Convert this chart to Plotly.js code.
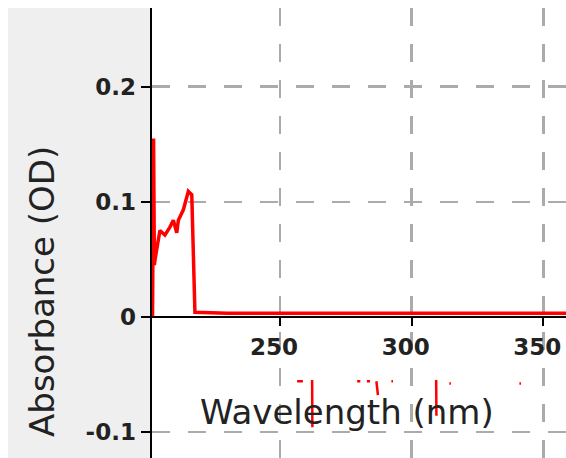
<!DOCTYPE html>
<html>
<head>
<meta charset="utf-8">
<script src="https://cdn.plot.ly/plotly-3.0.1.min.js"></script>
<style>
  html, body { margin: 0; padding: 0; background: #ffffff; width: 566px; height: 458px; overflow: hidden; }
  #chart { position: absolute; left: 8px; top: 8px; width: 558px; height: 450px; }
</style>
</head>
<body>
<div id="chart"></div>
<script>
// Absorbance spectrum (nm, OD)
const wavelength = [201.6, 201.9, 202.0, 202.3, 202.5, 204.4, 206.3, 208.2, 209.5, 210.8, 211.4, 213.3, 215.2, 216.5, 217.7, 230, 260, 300, 340, 360];
const absorbance = [0.000, 0.080, 0.155, 0.045, 0.049, 0.075, 0.071, 0.078, 0.084, 0.073, 0.084, 0.093, 0.109, 0.106, 0.004, 0.003, 0.003, 0.003, 0.003, 0.003];

// Stray red fragments below the axis (null separates fragments)
const fragWavelength = [256.5, 258.7, null, 262.2, 262.3, null, 279.3, 280.5, null, 283.0, 284.2, null, 286.6, 287.2, null, 292.3, 292.9, null, 309.3, 309.4, null, 314.3, 314.9, null, 340.9, 341.5];
const fragAbsorbance = [-0.056, -0.056, null, -0.055, -0.096, null, -0.056, -0.056, null, -0.056, -0.056, null, -0.056, -0.068, null, -0.056, -0.056, null, -0.055, -0.086, null, -0.058, -0.058, null, -0.058, -0.058];

const xTicks = [250, 300, 350];
const xTickLabels = ['250', '300', '350'];
const yTicks = [-0.1, 0, 0.1, 0.2];
const yTickLabels = ['-0.1', '0', '0.1', '0.2'];

const xRange = [201.4, 358.6];
const yRange = [-0.1227, 0.2684];

const xAxisPos = (0 - yRange[0]) / (yRange[1] - yRange[0]);

const gridColor = '#ababab';
const tickFont = { family: 'DejaVu Sans', size: 23, color: '#222222', weight: 'bold' };

const traces = [
  {
    x: wavelength, y: absorbance, type: 'scatter', mode: 'lines',
    line: { color: '#ff0000', width: 3.5 }, hoverinfo: 'skip', cliponaxis: true
  },
  {
    x: fragWavelength, y: fragAbsorbance, type: 'scatter', mode: 'lines',
    connectgaps: false,
    line: { color: '#ff0000', width: 2.5 }, hoverinfo: 'skip'
  }
];

const layout = {
  width: 558, height: 450,
  margin: { l: 144, r: 0, t: 0, b: 0, pad: 0 },
  paper_bgcolor: '#efefef',
  plot_bgcolor: '#ffffff',
  showlegend: false,
  xaxis: {
    range: xRange, tickvals: xTicks, ticktext: xTickLabels,
    anchor: 'free', position: xAxisPos,
    showline: true, linecolor: '#000000', linewidth: 2,
    ticks: 'outside', ticklen: 8, tickwidth: 2, tickcolor: '#000000',
    ticklabelshift: -6, ticklabelstandoff: 2,
    showgrid: true, gridcolor: gridColor, gridwidth: 2.5, griddash: '18px,18px',
    zeroline: false, tickfont: tickFont, fixedrange: true
  },
  yaxis: {
    range: yRange, tickvals: yTicks, ticktext: yTickLabels,
    showline: true, linecolor: '#000000', linewidth: 2.5,
    ticks: 'outside', ticklen: 9, tickwidth: 2, tickcolor: '#000000',
    showgrid: true, gridcolor: gridColor, gridwidth: 2.5, griddash: '18px,18px',
    zeroline: false, tickfont: tickFont, fixedrange: true
  },
  annotations: [
    {
      text: 'Wavelength (nm)', xref: 'paper', yref: 'paper',
      x: 0.471, y: 0.102, xanchor: 'center', yanchor: 'middle', showarrow: false,
      font: { family: 'DejaVu Sans', size: 34, color: '#222222' }
    },
    {
      text: 'Absorbance (OD)', xref: 'paper', yref: 'paper',
      x: -0.2657, y: 0.369, xanchor: 'center', yanchor: 'middle', showarrow: false,
      textangle: -90,
      font: { family: 'DejaVu Sans', size: 34, color: '#222222' }
    }
  ]
};

Plotly.newPlot('chart', traces, layout, { displayModeBar: false, staticPlot: true });
</script>
</body>
</html>
